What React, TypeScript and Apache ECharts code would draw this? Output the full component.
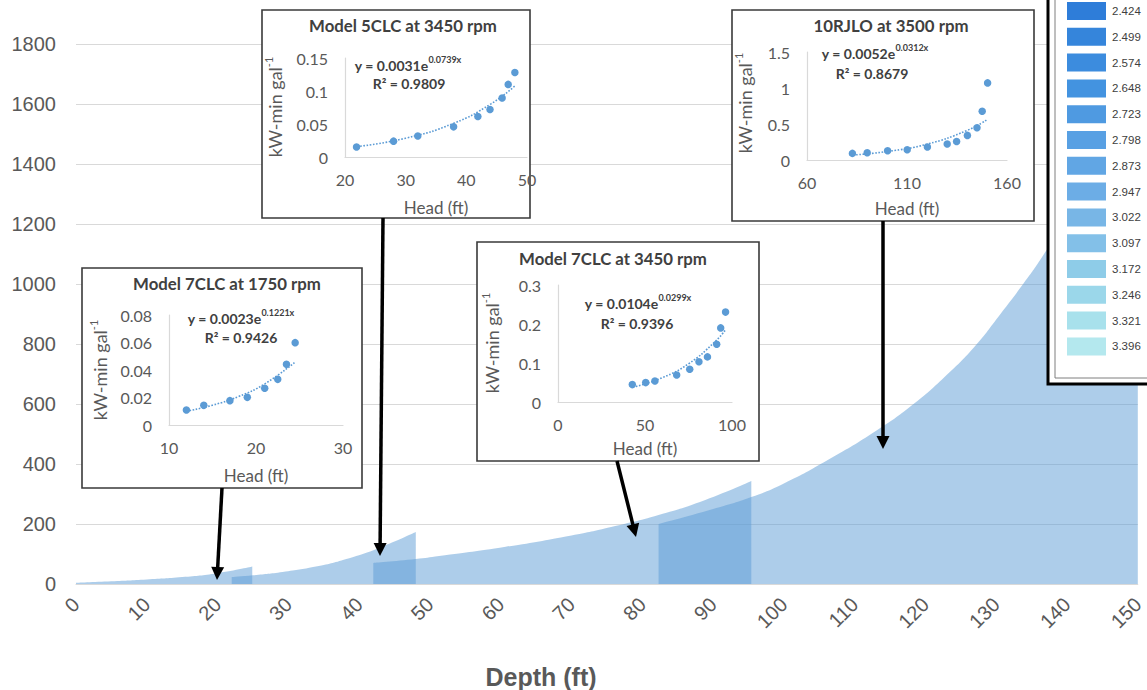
import React, { useEffect, useRef } from "react";
import * as echarts from "echarts";

// ---------------- main chart data (depth ft vs power) ----------------
const depthTicks = [0, 150, 10];
const powerTicks = [0, 1800, 200];

const seg7CLC1750Depth = [0, 5, 10, 15, 20, 24.9];
const seg7CLC1750Power = [4, 9, 15, 23, 36, 58];
const seg5CLC3450Depth = [22, 25, 29.2, 33.9, 38.6, 42.8, 48];
const seg5CLC3450Power = [23, 29, 40, 58, 86, 120, 173];
const seg7CLC3450Depth = [42, 48, 51.3, 60.7, 70, 75.6, 82.3, 88.9, 95.4];
const seg7CLC3450Power = [70, 83, 93, 124, 162, 190, 230, 280, 343];
const seg10RJLODepth = [82.3, 90, 95.4, 100, 106.2, 113.2, 118.5, 122.7, 126.9, 130.6, 133.9, 136.2, 140, 145, 150];
const seg10RJLOPower = [200, 250, 290, 335, 413, 513, 603, 690, 790, 900, 1003, 1080, 1220, 1440, 1690];

// ---------------- inset data ----------------
const titles = ["Model 7CLC at 1750 rpm", "Model 5CLC at 3450 rpm", "Model 7CLC at 3450 rpm", "10RJLO at 3500 rpm"];
const eqBase = ["y = 0.0023e", "y = 0.0031e", "y = 0.0104e", "y = 0.0052e"];
const eqExp = ["0.1221x", "0.0739x", "0.0299x", "0.0312x"];
const r2Text = ["R² = 0.9426", "R² = 0.9809", "R² = 0.9396", "R² = 0.8679"];

const headA = [12, 14, 17, 19, 21, 22.5, 23.5, 24.5];
const kwA = [0.0109, 0.0143, 0.0177, 0.0201, 0.0267, 0.0332, 0.0441, 0.0599];
const trendHeadA = [12, 15, 18, 21, 24.5];
const trendKwA = [0.0100, 0.0144, 0.0207, 0.0299, 0.0458];
const xTicksA = [10, 20, 30];
const yTicksA = [0, 0.02, 0.04, 0.06, 0.08];

const headB = [21.9, 28, 32, 37.9, 41.9, 43.9, 45.9, 46.9, 48];
const kwB = [0.0152, 0.024, 0.0318, 0.0457, 0.0614, 0.072, 0.0895, 0.11, 0.128];
const trendHeadB = [22, 30, 38, 44, 48];
const trendKwB = [0.0158, 0.0285, 0.0514, 0.0801, 0.1076];
const xTicksB = [20, 30, 40, 50];
const yTicksB = [0, 0.05, 0.1, 0.15];

const headC = [42.7, 50.4, 55.7, 68.2, 75.7, 81, 85.9, 91.2, 93.5, 96.3];
const kwC = [0.0446, 0.0497, 0.054, 0.0694, 0.084, 0.103, 0.1157, 0.148, 0.19, 0.2305];
const trendHeadC = [43, 60, 75, 90, 96];
const trendKwC = [0.0376, 0.0625, 0.0979, 0.1534, 0.1835];
const xTicksC = [0, 50, 100];
const yTicksC = [0, 0.1, 0.2, 0.3];

const headD = [82.7, 90.1, 100.3, 110.1, 120.2, 130.1, 134.8, 140.2, 145, 147.6, 150.3];
const kwD = [0.092, 0.1015, 0.129, 0.143, 0.18, 0.2215, 0.258, 0.3415, 0.448, 0.678, 1.071];
const trendHeadD = [83, 100, 120, 140, 150];
const trendKwD = [0.0693, 0.1178, 0.2198, 0.41, 0.5604];
const xTicksD = [60, 110, 160];
const yTicksD = [0, 0.5, 1, 1.5];

// ---------------- legend ----------------
const legendValues = ["2.424", "2.499", "2.574", "2.648", "2.723", "2.798", "2.873", "2.947", "3.022", "3.097", "3.172", "3.246", "3.321", "3.396"];
const legendColors = ["#2E7DD9", "#3585DB", "#3C8CDE", "#4393E0", "#4F9AE1", "#58A0E3", "#61A6E4", "#6CADE6", "#78B6E6", "#83C0E8", "#8ECCE8", "#9BD7EA", "#A8E1EC", "#B4E8EE"];

const BLUE = "#5B9BD5";
const GRAY = "#595959";
const DARK = "#404040";
const MAIN_FONT = "Liberation Sans";
const INSET_FONT = "Lato";

const zip = (a: number[], b: number[]) => a.map((v, i) => [v, b[i]]);

// layout of insets (pixel positions)
const insetLayout = [
  { grid: { left: 169, top: 315, width: 174, height: 110 }, box: [82, 268, 280, 220], title: [227, 283], eq: [241, 318], r2: [241, 337], yName: [100, 370], xName: [256, 475] },
  { grid: { left: 345, top: 58, width: 182, height: 99 }, box: [262, 10, 268, 208], title: [403, 25], eq: [408, 65], r2: [409, 83], yName: [275, 107], xName: [436, 207] },
  { grid: { left: 558, top: 285, width: 174, height: 117 }, box: [477, 242, 282, 219], title: [613, 258], eq: [638, 303], r2: [637, 323], yName: [492, 343], xName: [645, 448] },
  { grid: { left: 807, top: 52, width: 200, height: 108 }, box: [732, 10, 302, 211], title: [891, 25], eq: [875, 53], r2: [872, 73], yName: [745, 103], xName: [907, 208] },
];

const insetData = [
  { head: headA, kw: kwA, th: trendHeadA, tk: trendKwA, xt: xTicksA, yt: yTicksA },
  { head: headB, kw: kwB, th: trendHeadB, tk: trendKwB, xt: xTicksB, yt: yTicksB },
  { head: headC, kw: kwC, th: trendHeadC, tk: trendKwC, xt: xTicksC, yt: yTicksC },
  { head: headD, kw: kwD, th: trendHeadD, tk: trendKwD, xt: xTicksD, yt: yTicksD },
];

function arrow(x1: number, y1: number, x2: number, y2: number) {
  const dx = x2 - x1, dy = y2 - y1;
  const len = Math.hypot(dx, dy);
  const ux = dx / len, uy = dy / len;
  const hl = 13, hw = 6.5;
  const bx = x2 - ux * hl, by = y2 - uy * hl;
  return [
    { type: "line", z: 20, shape: { x1, y1, x2: bx + ux * 2, y2: by + uy * 2 }, style: { stroke: "#000", lineWidth: 3.5 } },
    { type: "polygon", z: 20, shape: { points: [[x2, y2], [bx - uy * hw, by + ux * hw], [bx + uy * hw, by - ux * hw]] }, style: { fill: "#000" } },
  ];
}

export default function App() {
  const ref = useRef<HTMLDivElement>(null);
  useEffect(() => {
    if (!ref.current) return;
    const chart = echarts.init(ref.current, null, { renderer: "svg" });

    const grids: any[] = [{ left: 76, right: 6, top: 44, bottom: 106 }];
    const xAxes: any[] = [
      {
        type: "value", gridIndex: 0, min: depthTicks[0], max: depthTicks[1], interval: depthTicks[2],
        axisLine: { show: true, lineStyle: { color: "#D9D9D9", width: 1 } },
        axisTick: { show: false }, splitLine: { show: false },
        axisLabel: { rotate: 45, fontSize: 20, color: GRAY, fontFamily: MAIN_FONT, margin: 17, formatter: (v: number) => String(v) },
      },
    ];
    const yAxes: any[] = [
      {
        type: "value", gridIndex: 0, min: powerTicks[0], max: powerTicks[1], interval: powerTicks[2],
        axisLine: { show: false }, axisTick: { show: false },
        splitLine: { lineStyle: { color: "#D9D9D9", width: 1 } },
        axisLabel: { fontSize: 20, color: GRAY, fontFamily: MAIN_FONT, margin: 20, formatter: (v: number) => String(v) },
      },
    ];
    const areaSeries = (d: number[], p: number[]) => ({
      type: "line", xAxisIndex: 0, yAxisIndex: 0, data: zip(d, p), smooth: 0.5,
      symbol: "none", lineStyle: { opacity: 0, width: 0 }, areaStyle: { color: BLUE, opacity: 0.5 }, z: 2,
    });
    const series: any[] = [
      areaSeries(seg7CLC1750Depth, seg7CLC1750Power),
      areaSeries(seg5CLC3450Depth, seg5CLC3450Power),
      areaSeries(seg7CLC3450Depth, seg7CLC3450Power),
      areaSeries(seg10RJLODepth, seg10RJLOPower),
    ];

    const graphics: any[] = [];

    insetLayout.forEach((L, i) => {
      const D = insetData[i];
      const gi = i + 1;
      grids.push(L.grid);
      xAxes.push({
        type: "value", gridIndex: gi, min: D.xt[0], max: D.xt[D.xt.length - 1], z: 5,
        axisLine: { show: true, onZero: false, lineStyle: { color: "#D9D9D9", width: 1.2 } },
        axisTick: { show: false, customValues: D.xt }, splitLine: { show: false },
        axisLabel: { customValues: D.xt, fontSize: 16, color: GRAY, fontFamily: INSET_FONT, margin: 14 },
      });
      yAxes.push({
        type: "value", gridIndex: gi, min: D.yt[0], max: D.yt[D.yt.length - 1], z: 5,
        axisLine: { show: true, onZero: false, lineStyle: { color: "#D9D9D9", width: 1.2 } },
        axisTick: { show: false, customValues: D.yt }, splitLine: { show: false },
        axisLabel: { customValues: D.yt, fontSize: 16, color: GRAY, fontFamily: INSET_FONT, margin: 17 },
      });
      series.push({
        type: "line", xAxisIndex: gi, yAxisIndex: gi, data: zip(D.th, D.tk), smooth: true,
        symbol: "none", lineStyle: { type: "dotted", width: 1.6, color: BLUE }, z: 6,
      });
      series.push({
        type: "scatter", xAxisIndex: gi, yAxisIndex: gi, data: zip(D.head, D.kw),
        symbolSize: 7.5, itemStyle: { color: BLUE, opacity: 1 }, z: 7,
      });
      const [bx, by, bw, bh] = L.box;
      graphics.push({ type: "rect", z: 3, shape: { x: bx, y: by, width: bw, height: bh }, style: { fill: "#fff", stroke: "#3A3A3A", lineWidth: 1.6 } });
      graphics.push({
        type: "text", z: 8, x: L.title[0], y: L.title[1],
        style: { text: titles[i], fontSize: 16.8, fontWeight: "bold", fontFamily: INSET_FONT, fill: DARK, align: "center", verticalAlign: "middle" },
      });
      graphics.push({
        type: "text", z: 8, x: L.eq[0], y: L.eq[1],
        style: {
          text: `{b|${eqBase[i]}}{s|${eqExp[i]}}`, align: "center", verticalAlign: "middle",
          rich: {
            b: { fontSize: 14, fontWeight: "bold", fontFamily: INSET_FONT, fill: DARK, lineHeight: 20 },
            s: { fontSize: 9, fontWeight: "bold", fontFamily: INSET_FONT, fill: DARK, verticalAlign: "top" },
          },
        },
      });
      graphics.push({
        type: "text", z: 8, x: L.r2[0], y: L.r2[1],
        style: { text: r2Text[i], fontSize: 14, fontWeight: "bold", fontFamily: INSET_FONT, fill: DARK, align: "center", verticalAlign: "middle" },
      });
      graphics.push({
        type: "text", z: 8, x: L.yName[0], y: L.yName[1], rotation: Math.PI / 2,
        style: {
          text: "{n|kW-min gal}{s|-1}", align: "center", verticalAlign: "middle",
          rich: {
            n: { fontSize: 18, fontFamily: INSET_FONT, fill: GRAY, lineHeight: 24 },
            s: { fontSize: 11, fontFamily: INSET_FONT, fill: GRAY, verticalAlign: "top" },
          },
        },
      });
      graphics.push({
        type: "text", z: 8, x: L.xName[0], y: L.xName[1],
        style: { text: "Head (ft)", fontSize: 17, fontFamily: INSET_FONT, fill: GRAY, align: "center", verticalAlign: "middle" },
      });
    });

    // arrows
    graphics.push(...arrow(222, 488, 217, 580));
    graphics.push(...arrow(383, 218, 380, 556));
    graphics.push(...arrow(617, 461, 636, 537));
    graphics.push(...arrow(883, 221, 883, 449));

    // legend box
    graphics.push({ type: "rect", z: 30, shape: { x: 1048, y: -10, width: 120, height: 394 }, style: { fill: "#fff", stroke: "#000", lineWidth: 3 } });
    graphics.push({ type: "rect", z: 31, shape: { x: 1055, y: -10, width: 120, height: 388 }, style: { fill: "none", stroke: "#7F7F7F", lineWidth: 1 } });
    legendValues.forEach((v, i) => {
      const cy = 11 + i * 25.8;
      graphics.push({ type: "rect", z: 32, shape: { x: 1067, y: cy - 9, width: 39, height: 18 }, style: { fill: legendColors[i] } });
      graphics.push({
        type: "text", z: 32, x: 1112, y: cy,
        style: { text: v, fontSize: 11.5, fontFamily: MAIN_FONT, fill: DARK, align: "left", verticalAlign: "middle" },
      });
    });

    // main x axis title
    graphics.push({
      type: "text", z: 8, x: 541, y: 677,
      style: { text: "Depth (ft)", fontSize: 25, fontWeight: "bold", fontFamily: MAIN_FONT, fill: GRAY, align: "center", verticalAlign: "middle" },
    });

    chart.setOption({
      animation: false,
      backgroundColor: "#fff",
      grid: grids,
      xAxis: xAxes,
      yAxis: yAxes,
      series,
      graphic: { elements: graphics },
    });
    return () => chart.dispose();
  }, []);
  return <div ref={ref} style={{ position: "absolute", left: 0, top: 0, width: 1147, height: 690 }} />;
}
